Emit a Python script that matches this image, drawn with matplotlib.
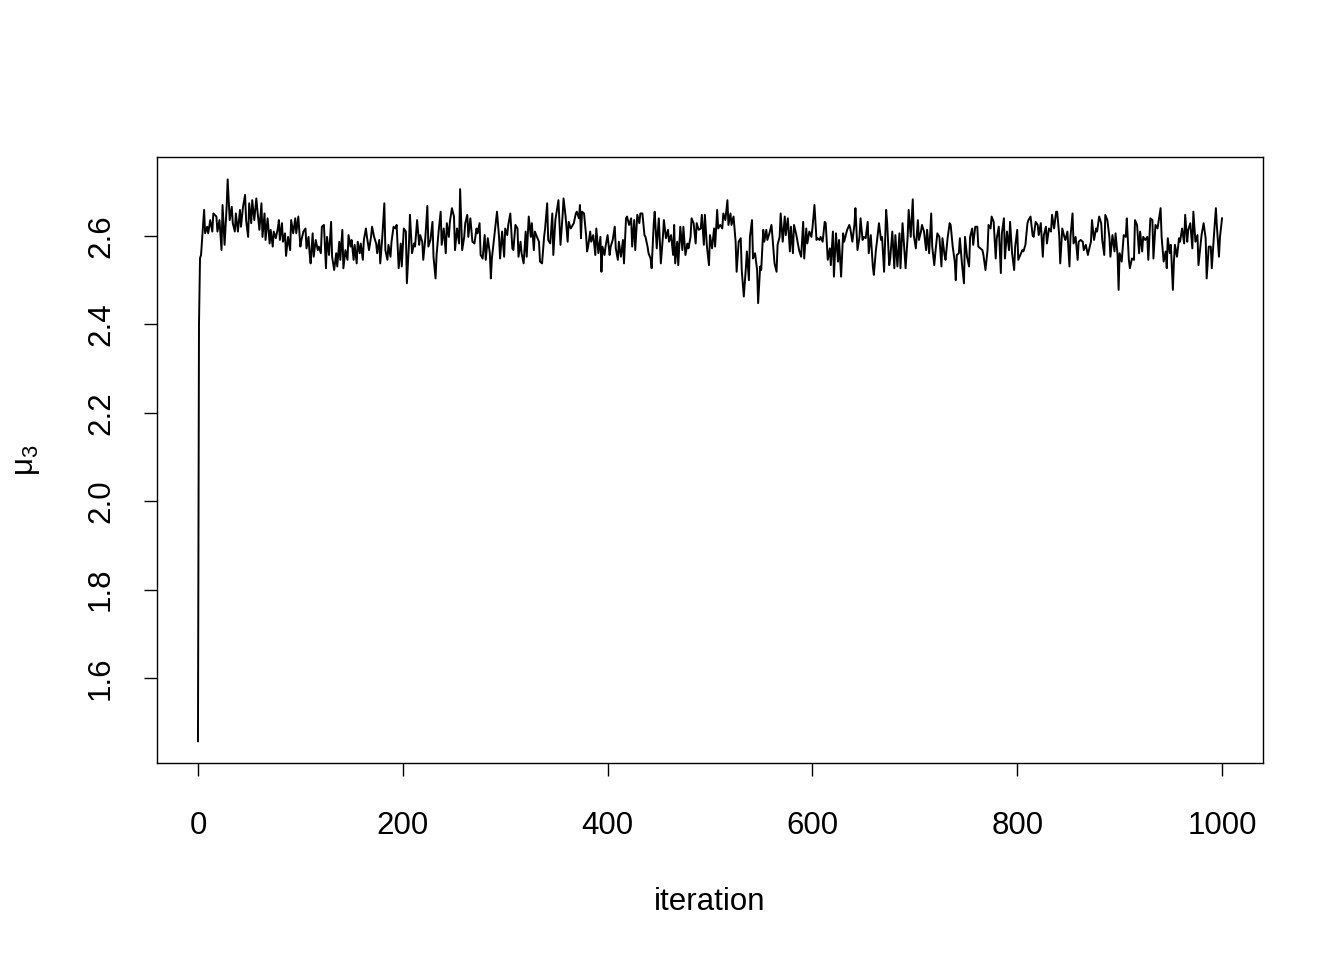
import matplotlib
matplotlib.use("Agg")
import matplotlib.pyplot as plt

plt.rcParams['font.family'] = ['Liberation Sans', 'DejaVu Sans']
plt.rcParams['mathtext.fontset'] = 'custom'
plt.rcParams['mathtext.rm'] = 'Liberation Sans'
plt.rcParams['mathtext.it'] = 'Liberation Sans'

iteration = [
    0, 1, 2, 3, 6, 7, 9, 10, 12, 14, 15, 18, 19, 21, 23, 24, 26, 28, 29, 31, 33, 34, 36, 37, 39, 41, 42, 44, 46, 47,
    49, 50, 52, 53, 55, 57, 58, 60, 62, 63, 65, 66, 68, 70, 71, 73, 74, 76, 78, 79, 80, 82, 83, 85, 86, 88,
    90, 91, 93, 95, 96, 98, 100, 101, 103, 105, 106, 108, 109, 110, 112, 113, 115, 117, 118, 120, 121, 123, 125, 126,
    128, 130, 131, 133, 135, 136, 138, 139, 141, 142, 144, 146, 147, 149, 150, 152, 153, 155, 156, 158, 159, 161, 162,
    164, 165, 167, 169, 170, 172, 174, 175, 177,
    178, 180, 182, 183, 185, 186, 188, 189, 191, 193, 194, 196, 198, 199, 201, 203, 204, 206, 207, 209, 211, 212, 214,
    216, 217, 219, 220, 222, 224, 225, 227, 229, 230, 232, 233, 235, 237, 238, 240, 242, 243, 245, 246, 248, 250, 251,
    253, 255, 256, 258, 260, 261, 263, 264, 266, 268,
    270, 272, 273, 275, 276, 278, 280, 281, 283, 285, 286, 287, 289, 290, 292, 294, 295, 297, 299, 300, 302, 303, 305,
    307, 308, 310, 312, 313, 315, 316, 318, 320, 321, 323, 325, 326, 328, 329, 331, 333, 334, 336, 338, 339, 341, 342,
    344, 346, 347, 349, 351, 352, 354, 356, 357, 359,
    361, 362, 364, 366, 367, 369, 370, 372, 373, 374, 375, 377, 379, 380, 381, 383, 384, 386, 388, 389, 391, 393, 394,
    395, 397, 398, 400, 402, 403, 405, 407, 408, 410, 411, 413, 415, 416, 418, 419, 421, 423, 424, 426, 427, 429, 431,
    432, 434, 436, 437, 439, 440, 442, 443, 445, 446, 448, 450,
    452, 454, 455, 457, 459, 460, 462, 464, 465, 466, 468, 469, 471, 473, 474, 476, 478, 479, 481, 482, 484, 486, 487,
    489, 491, 492, 494, 495, 497, 499, 500, 502, 504, 505, 507, 508, 510, 512, 513, 515, 517, 518, 520, 521, 523, 525,
    526, 528, 530, 531, 533, 535, 536, 538, 539, 541,
    542, 544, 546, 547, 549, 550, 552, 553, 555, 556, 558, 560, 561, 563, 565, 566, 568, 569, 571, 573, 574, 576, 578,
    579, 581, 582, 584, 586, 587, 589, 591, 592, 594, 595, 597, 599, 600, 602, 604, 605, 607, 608, 610, 612, 613, 615,
    617, 618, 620, 621, 623, 625, 626, 628, 630, 631,
    633, 634, 636, 637, 639, 641, 642, 644, 646, 647, 649, 650, 652, 654, 655, 657, 659, 660, 662, 663, 665, 667, 668,
    670, 672, 673, 675, 676, 678, 680, 681, 683, 685, 686, 688, 690, 691, 693, 694, 696, 698, 699, 701, 703, 704, 706,
    707, 709, 711, 712, 714, 716, 717, 719, 720, 722,
    724, 726, 727, 729, 730, 732, 734, 735, 737, 739, 740, 741, 743, 744, 746, 748, 749, 751, 753, 754, 756, 757, 759,
    761, 762, 764, 766, 767, 769, 771, 772, 774, 775, 777, 779, 780, 782, 784, 785, 787, 788, 790, 792, 793, 795, 797,
    798, 800, 801, 803, 805, 806, 808, 810, 811, 813,
    815, 816, 818, 820, 821, 823, 825, 826, 828, 829, 831, 833, 834, 836, 838, 839, 841, 842, 844, 846, 847, 849, 851,
    852, 854, 855, 857, 859, 860, 862, 864, 865, 867, 869, 870, 872, 873, 875, 877, 878, 880, 882, 883, 885, 886, 888,
    890, 891, 893, 895, 896, 898, 899, 900, 902, 904,
    906, 907, 909, 910, 912, 914, 915, 917, 919, 920, 922, 923, 925, 927, 928, 930, 932, 933, 935, 937, 938, 940, 941,
    943, 945, 946, 947, 949, 950, 952, 953, 954, 956, 958, 959, 961, 963, 964, 966, 967, 969, 971, 972, 974, 976, 977,
    979, 980, 982, 984, 985, 987, 989, 990, 992, 994, 995, 997, 998, 1000,
]

mu3 = [
    1.457, 2.400, 2.550, 2.557, 2.659, 2.606, 2.621, 2.606, 2.636, 2.610, 2.651, 2.644, 2.610, 2.636, 2.568, 2.670,
    2.580, 2.666, 2.728, 2.636, 2.666, 2.629, 2.610, 2.651, 2.610, 2.659, 2.621, 2.666, 2.693, 2.636,
    2.598, 2.674, 2.629, 2.681, 2.636, 2.685, 2.659, 2.614, 2.674, 2.598, 2.651, 2.591, 2.640, 2.583, 2.614, 2.576,
    2.610, 2.595, 2.617, 2.636, 2.591, 2.629, 2.587, 2.606, 2.555, 2.598,
    2.568, 2.636, 2.606, 2.640, 2.606, 2.644, 2.576, 2.591, 2.610, 2.617, 2.572, 2.598, 2.561, 2.538, 2.606, 2.553,
    2.591, 2.568, 2.576, 2.561, 2.621, 2.625, 2.527, 2.598,
    2.557, 2.632, 2.553, 2.523, 2.561, 2.531, 2.587, 2.546, 2.614, 2.527, 2.568, 2.546, 2.602, 2.576, 2.591, 2.546,
    2.580, 2.538, 2.587, 2.561, 2.583, 2.546, 2.591,
    2.617, 2.598, 2.568, 2.598, 2.621, 2.598, 2.583, 2.561, 2.591,
    2.538, 2.598, 2.674, 2.568, 2.546, 2.580, 2.553, 2.587, 2.621, 2.617, 2.625, 2.527, 2.583, 2.531, 2.617, 2.610,
    2.493, 2.580, 2.648, 2.561, 2.583, 2.576, 2.636,
    2.580, 2.602, 2.587, 2.546, 2.595, 2.668, 2.576, 2.591, 2.632, 2.553, 2.504, 2.557, 2.610, 2.655, 2.580, 2.617,
    2.561, 2.629, 2.598, 2.632, 2.663, 2.644, 2.568,
    2.617, 2.583, 2.706, 2.568, 2.598, 2.629, 2.648, 2.598, 2.640, 2.587,
    2.583, 2.617, 2.606, 2.629, 2.557, 2.549, 2.602, 2.546, 2.595, 2.561, 2.504, 2.549, 2.591, 2.614, 2.655, 2.598,
    2.549, 2.610, 2.553, 2.617, 2.602, 2.625, 2.651,
    2.572, 2.568, 2.625, 2.617, 2.553, 2.587, 2.561, 2.538, 2.610, 2.553, 2.644, 2.598, 2.629, 2.568, 2.610, 2.598,
    2.587, 2.542, 2.538, 2.598, 2.617, 2.674, 2.591,
    2.583, 2.651, 2.557, 2.636, 2.666, 2.681, 2.580, 2.644, 2.685, 2.644,
    2.587, 2.632, 2.617, 2.625, 2.629, 2.651, 2.655, 2.640, 2.670, 2.595, 2.655, 2.651, 2.602, 2.565, 2.576, 2.610,
    2.587, 2.602, 2.557, 2.617, 2.561, 2.598, 2.519,
    2.576, 2.557, 2.576, 2.602, 2.557, 2.576, 2.591, 2.621, 2.572, 2.546, 2.587, 2.553, 2.591, 2.538, 2.640, 2.644,
    2.625, 2.640, 2.576, 2.636, 2.568, 2.648, 2.629,
    2.651, 2.651, 2.602, 2.598, 2.576, 2.561, 2.549, 2.527, 2.625, 2.655, 2.572, 2.640,
    2.538, 2.598, 2.636, 2.595, 2.614, 2.587, 2.602, 2.557, 2.625, 2.538, 2.587, 2.534, 2.621, 2.568, 2.621, 2.557,
    2.583, 2.572, 2.598, 2.640, 2.629, 2.583, 2.629,
    2.614, 2.617, 2.648, 2.580, 2.648, 2.576, 2.534, 2.602, 2.572, 2.617, 2.576, 2.659, 2.617, 2.625, 2.617, 2.651,
    2.636, 2.681, 2.625, 2.651, 2.625, 2.644, 2.587,
    2.519, 2.587, 2.595, 2.523, 2.463, 2.527, 2.565, 2.500, 2.598, 2.636,
    2.549, 2.561, 2.523, 2.448, 2.531, 2.523, 2.614, 2.587, 2.614, 2.591, 2.606, 2.625, 2.598, 2.538, 2.519, 2.580,
    2.598, 2.651, 2.587, 2.644, 2.602, 2.640, 2.565,
    2.621, 2.561, 2.625, 2.606, 2.580, 2.568, 2.553, 2.632, 2.549, 2.617, 2.583, 2.610, 2.598, 2.617, 2.670, 2.591,
    2.595, 2.591, 2.598, 2.587, 2.632, 2.629, 2.546,
    2.572, 2.534, 2.610, 2.508, 2.606, 2.542, 2.591, 2.508, 2.606, 2.587,
    2.606, 2.614, 2.625, 2.617, 2.587, 2.625, 2.663, 2.568, 2.598, 2.640, 2.591, 2.598, 2.595, 2.632, 2.561, 2.602,
    2.531, 2.512, 2.568, 2.587, 2.629, 2.591, 2.598,
    2.519, 2.659, 2.629, 2.534, 2.549, 2.610, 2.527, 2.602, 2.531, 2.606, 2.527, 2.629, 2.561, 2.527, 2.598, 2.659,
    2.598, 2.683, 2.602, 2.572, 2.636, 2.591, 2.610,
    2.625, 2.610, 2.568, 2.614, 2.561, 2.651, 2.576, 2.534, 2.561, 2.606,
    2.598, 2.531, 2.595, 2.557, 2.546, 2.595, 2.629, 2.625, 2.576, 2.542, 2.500, 2.557, 2.561, 2.595, 2.538, 2.493,
    2.598, 2.553, 2.531, 2.598, 2.617, 2.580, 2.621,
    2.621, 2.576, 2.572, 2.568, 2.557, 2.523, 2.568, 2.625, 2.617, 2.644, 2.632, 2.549, 2.595, 2.621, 2.516, 2.606,
    2.640, 2.549, 2.610, 2.568, 2.632, 2.561, 2.523,
    2.576, 2.614, 2.546, 2.557, 2.568, 2.565, 2.580, 2.629, 2.636, 2.644,
    2.602, 2.598, 2.632, 2.625, 2.602, 2.629, 2.553, 2.602, 2.621, 2.583, 2.617, 2.610, 2.648, 2.617, 2.655, 2.655,
    2.602, 2.538, 2.617, 2.598, 2.591, 2.610, 2.531,
    2.598, 2.651, 2.583, 2.598, 2.546, 2.587, 2.591, 2.587, 2.568, 2.580, 2.557, 2.568, 2.587, 2.636, 2.591, 2.617,
    2.610, 2.644, 2.629, 2.591, 2.557, 2.648, 2.636,
    2.598, 2.553, 2.602, 2.565, 2.606, 2.557, 2.478, 2.561, 2.542, 2.602,
    2.598, 2.640, 2.546, 2.527, 2.549, 2.546, 2.636, 2.625, 2.561, 2.610, 2.565, 2.598, 2.591, 2.598, 2.546, 2.640,
    2.636, 2.549, 2.625, 2.617, 2.632, 2.663, 2.598,
    2.542, 2.565, 2.527, 2.595, 2.561, 2.580, 2.478, 2.542, 2.580, 2.553, 2.595, 2.587, 2.617, 2.583, 2.648, 2.587,
    2.614, 2.629, 2.572, 2.655, 2.587, 2.602, 2.534,
    2.580, 2.602, 2.629, 2.595, 2.504, 2.576, 2.576, 2.527, 2.598, 2.663, 2.621, 2.553, 2.598, 2.640,
]

x_ticks = [0, 200, 400, 600, 800, 1000]
y_ticks = [1.6, 1.8, 2.0, 2.2, 2.4, 2.6]

fig = plt.figure(figsize=(13.44, 9.6), dpi=100)
ax = fig.add_axes([157 / 1344, 1 - 763 / 960, (1263 - 157) / 1344, (763 - 157) / 960])
ax.plot(iteration, mu3, color='black', lw=1.4)
ax.set_xlim(-40, 1040)
ax.set_ylim(1.4077, 2.7787)
ax.set_xticks(x_ticks)
ax.set_xticklabels([str(t) for t in x_ticks])
ax.set_yticks(y_ticks)
ax.set_yticklabels([f"{t:.1f}" for t in y_ticks], rotation=90, va='center')
ax.tick_params(axis='both', direction='out', length=9.5, width=1.0, labelsize=22.5)
ax.tick_params(axis='x', pad=25)
ax.tick_params(axis='y', pad=20)
for s in ax.spines.values():
    s.set_linewidth(1.0)
ax.set_xlabel('iteration', fontsize=22.5, labelpad=33)
ax.set_ylabel(r'$\mu_3$', fontsize=22.5, labelpad=32)
fig.savefig('out.png', dpi=100)
